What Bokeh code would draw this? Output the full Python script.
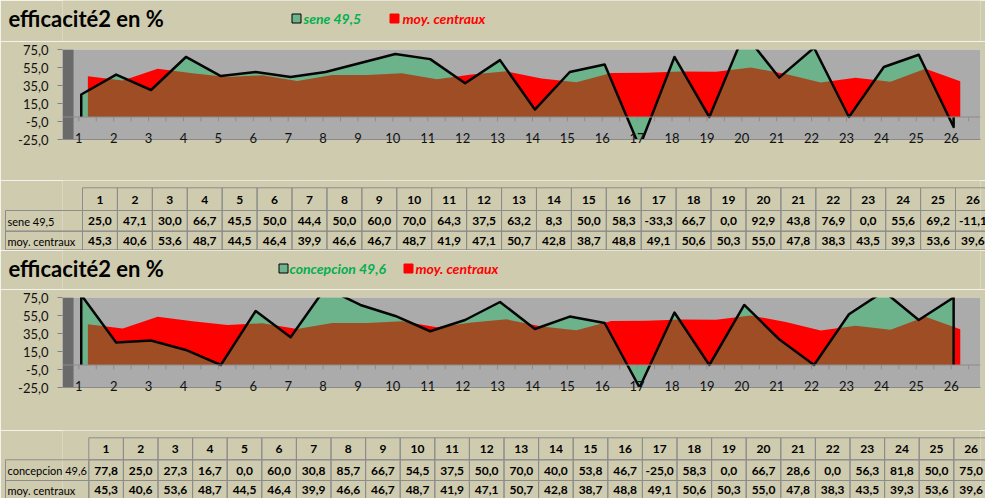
from bokeh.plotting import figure
from bokeh.layouts import column
from bokeh.models import Range1d, FixedTicker, BoxAnnotation, ColumnDataSource, Span
from bokeh.transform import dodge
from bokeh.embed import file_html
from bokeh.resources import INLINE
from bokeh.core.properties import value
import numpy as np

# ---------------- data ----------------
cats = list(range(1, 27))
sene = [25.0, 47.1, 30.0, 66.7, 45.5, 50.0, 44.4, 50.0, 60.0, 70.0, 64.3, 37.5, 63.2,
        8.3, 50.0, 58.3, -33.3, 66.7, 0.0, 92.9, 43.8, 76.9, 0.0, 55.6, 69.2, -11.1]
concepcion = [77.8, 25.0, 27.3, 16.7, 0.0, 60.0, 30.8, 85.7, 66.7, 54.5, 37.5, 50.0, 70.0,
              40.0, 53.8, 46.7, -25.0, 58.3, 0.0, 66.7, 28.6, 0.0, 56.3, 81.8, 50.0, 75.0]
moy = [45.3, 40.6, 53.6, 48.7, 44.5, 46.4, 39.9, 46.6, 46.7, 48.7, 41.9, 47.1, 50.7,
       42.8, 38.7, 48.8, 49.1, 50.6, 50.3, 55.0, 47.8, 38.3, 43.5, 39.3, 53.6, 39.6]
name_sene = "sene 49,5"
name_conc = "concepcion 49,6"
name_moy = "moy. centraux"
title_text = "efficacité2 en %"
y_ticks = [-25, -5, 15, 35, 55, 75]

# ---------------- styles ----------------
BEIGE = "#CFCBAE"
GRAY = "#ABABAB"
WALL = "#6A6A6A"
RED = "#FF0000"
GREEN_ALPHA = "#10C15D"
GREEN_LEG = "#6DB38B"
GREEN_TXT = "#00B050"
GRID = "#8C8C8C"
FONT = "Lato"
BL, BR = 62, 5          # shared left / right borders (frames are aligned by the column)
PX0, PX1 = BL, 985 - BR  # frame span in page pixels


def fmt(v):
    return f"{v:.1f}".replace(".", ",")


def blank(height):
    f = figure(width=985, height=height, x_range=Range1d(PX0, PX1), y_range=Range1d(height, 0),
               output_backend="svg", toolbar_location=None, x_axis_location=None,
               y_axis_location=None, min_border_left=BL, min_border_right=BR,
               min_border_top=0, min_border_bottom=0)
    f.grid.visible = False
    f.outline_line_color = None
    f.background_fill_color = BEIGE
    f.border_fill_color = BEIGE
    return f


def header(height, sname, gsq, gtxt, rsq, rtxt):
    h = blank(height)
    h.text(x=[8], y=[18], text=[title_text], text_font=value(FONT), text_font_style="bold",
           text_font_size="22px", text_baseline="middle", text_color="#000000", level="overlay")
    h.scatter(x=[gsq], y=[18], marker="square", size=9, fill_color=GREEN_LEG,
              line_color="#000000", line_width=1, level="overlay")
    h.text(x=[gtxt], y=[18], text=[sname], text_font=value(FONT), text_font_style="bold italic",
           text_font_size="14px", text_baseline="middle", text_color=GREEN_TXT, level="overlay")
    h.scatter(x=[rsq], y=[18], marker="square", size=9, fill_color=RED, line_color=RED,
              level="overlay")
    h.text(x=[rtxt], y=[18], text=[name_moy], text_font=value(FONT), text_font_style="bold italic",
           text_font_size="14px", text_baseline="middle", text_color=RED, level="overlay")
    return h


def chart(series, height, top_b, bottom_b):
    p = figure(width=985, height=height, x_range=Range1d(0.533, 26.84), y_range=Range1d(-25, 75),
               output_backend="svg", toolbar_location=None, min_border_left=BL,
               min_border_right=BR, min_border_top=top_b, min_border_bottom=bottom_b)
    p.grid.visible = False
    p.outline_line_color = None
    p.background_fill_color = GRAY
    p.border_fill_color = BEIGE
    p.add_layout(BoxAnnotation(right=0.85, fill_color=WALL, fill_alpha=1, line_color=None,
                               level="underlay"))
    src = ColumnDataSource(dict(x=cats, s=series, m=moy))
    p.varea(x=dodge("x", 0.26), y1=0, y2="m", source=src, fill_color=RED)
    p.varea(x=dodge("x", 0.07), y1=0, y2="s", source=src, fill_color=GREEN_ALPHA, fill_alpha=0.4)
    p.add_layout(Span(location=0, dimension="width", line_color=GRID, line_width=1))
    tpos = [c + d for c in cats for d in (0.0, 0.5)]
    p.segment(x0=tpos, x1=tpos, y0=[0] * len(tpos), y1=[-4.8] * len(tpos),
              line_color=GRID, line_width=1)
    osrc = ColumnDataSource(dict(x=[cats[0]] + cats + [cats[-1]], y=[0] + list(series) + [0]))
    p.line(x=dodge("x", 0.07), y="y", source=osrc, line_color="#050505", line_width=2.5,
           line_join="round")

    p.xaxis.ticker = FixedTicker(ticks=cats)
    p.xaxis.major_tick_line_color = None
    p.xaxis.minor_tick_line_color = None
    p.xaxis.axis_line_color = "#8A8A8A"
    p.xaxis.major_label_standoff = -13
    p.xaxis.major_label_text_font = FONT
    p.xaxis.major_label_text_font_size = "13px"
    p.xaxis.major_label_text_color = "#111111"

    p.yaxis.ticker = FixedTicker(ticks=y_ticks)
    p.yaxis.major_label_overrides = {t: fmt(t) for t in y_ticks}
    p.yaxis.axis_line_color = None
    p.yaxis.minor_tick_line_color = None
    p.yaxis.major_tick_in = 0
    p.yaxis.major_tick_out = 5
    p.yaxis.major_tick_line_color = "#7F7F7F"
    p.yaxis.major_label_standoff = 9
    p.yaxis.major_label_text_font = FONT
    p.yaxis.major_label_text_font_size = "13px"
    p.yaxis.major_label_text_color = "#111111"
    return p


def table(height, first, w, rows, sname, svals):
    t = blank(height)
    c = np.array(cats)
    lefts = first + (c - 1) * w
    rights = lefts + w
    centers = lefts + w / 2
    r0, r1, r2, r3 = rows
    for top, bot in ((r0, r1), (r1, r2), (r2, r3)):
        t.quad(left=lefts, right=rights, top=top, bottom=bot, fill_color=None,
               line_color=GRID, level="overlay")
    t.quad(left=[5, 5], right=[first, first], top=[r1, r2], bottom=[r2, r3],
           fill_color=None, line_color=GRID, level="overlay")
    common = dict(text_font=value(FONT), text_font_style="bold", text_font_size="12px",
                  text_align="center", text_baseline="middle", text_color="#000000",
                  level="overlay")
    t.text(x=centers, y=(r0 + r1) / 2 + 0.5, text=[str(v) for v in cats], **common)
    t.text(x=centers, y=(r1 + r2) / 2 + 0.5, text=[fmt(v) for v in svals], **common)
    t.text(x=centers, y=(r2 + r3) / 2 + 0.5, text=[fmt(v) for v in moy], **common)
    t.text(x=[7, 7], y=[(r1 + r2) / 2 + 0.5, (r2 + r3) / 2 + 0.5], text=[sname, name_moy],
           text_font=value(FONT), text_font_size="11px", text_baseline="middle",
           text_color="#000000", level="overlay")
    return t


h1 = header(41, name_sene, 296, 303, 394, 402)
c1 = chart(sene, 139, 8, 41)
t1 = table(70, 82.0, 34.92, (7.3, 30.0, 50.7, 69.3), name_sene, sene)
h2 = header(39, name_conc, 283, 289, 408, 415)
c2 = chart(concepcion, 141, 8, 43)
t2 = table(68, 88.3, 34.6, (7.3, 29.3, 50.0, 68.3), name_conc, concepcion)

layout = column(h1, c1, t1, h2, c2, t2, spacing=0)
open("out.html", "w").write(file_html(layout, INLINE))
